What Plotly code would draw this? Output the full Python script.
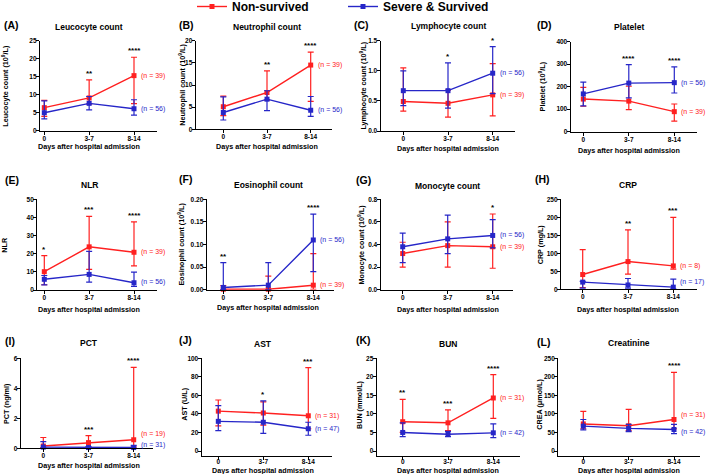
import plotly.graph_objects as go

W, H = 709, 474
FONT = "Arial, Liberation Sans, sans-serif"
RED = "#ff2020"
BLUE = "#2626c8"

days = ["0", "3-7", "8-14"]
group_names = ["Non-survived", "Severe & Survived"]

# ---- data: median, upper (hi) and lower (lo) of IQR; NS = non-survived, SV = severe & survived ----
# (A) Leucocyte count
wbc_ns = [6.4, 9.1, 15.3]; wbc_ns_hi = [8.4, 14.1, 20.4]; wbc_ns_lo = [4.0, 7.4, 7.5]
wbc_sv = [5.0, 7.6, 6.1];  wbc_sv_hi = [8.3, 9.5, 8.6];   wbc_sv_lo = [3.3, 5.8, 4.3]
wbc_stars = ["", "**", "****"]; wbc_n = [39, 56]
# (B) Neutrophil count
neu_ns = [5.1, 8.3, 14.5]; neu_ns_hi = [7.5, 13.2, 17.4]; neu_ns_lo = [3.1, 6.6, 6.3]
neu_sv = [3.8, 6.8, 4.3];  neu_sv_hi = [7.3, 8.7, 7.4];   neu_sv_lo = [2.1, 4.2, 2.9]
neu_stars = ["", "**", "****"]; neu_n = [39, 56]
# (C) Lymphocyte count
lym_ns = [0.49, 0.46, 0.60]; lym_ns_hi = [1.05, 0.68, 1.12]; lym_ns_lo = [0.33, 0.23, 0.25]
lym_sv = [0.67, 0.67, 0.96]; lym_sv_hi = [1.00, 1.13, 1.40]; lym_sv_lo = [0.42, 0.38, 0.62]
lym_stars = ["", "*", "*"]; lym_n = [39, 56]
# (D) Platelet
plt_ns = [145, 136, 89];  plt_ns_hi = [197, 202, 123]; plt_ns_lo = [113, 98, 47]
plt_sv = [168, 216, 218]; plt_sv_hi = [220, 298, 288]; plt_sv_lo = [115, 150, 172]
plt_stars = ["", "****", "****"]; plt_n = [39, 56]
# (E) NLR
nlr_ns = [10.1, 23.8, 20.8]; nlr_ns_hi = [19.0, 40.6, 37.5]; nlr_ns_lo = [2.9, 11.4, 13.3]
nlr_sv = [5.9, 8.6, 4.0];    nlr_sv_hi = [8.0, 21.3, 9.9];   nlr_sv_lo = [2.8, 4.3, 2.0]
nlr_stars = ["*", "***", "****"]; nlr_n = [39, 56]
# (F) Eosinophil count
eos_ns = [0.001, 0.001, 0.010]; eos_ns_hi = [0.009, 0.030, 0.080]; eos_ns_lo = [0.0, 0.0, 0.001]
eos_sv = [0.005, 0.010, 0.110]; eos_sv_hi = [0.060, 0.060, 0.167]; eos_sv_lo = [0.0, 0.0, 0.040]
eos_stars = ["**", "", "****"]; eos_n = [39, 56]
# (G) Monocyte count
mon_ns = [0.32, 0.39, 0.38]; mon_ns_hi = [0.42, 0.60, 0.67]; mon_ns_lo = [0.20, 0.20, 0.19]
mon_sv = [0.38, 0.45, 0.48]; mon_sv_hi = [0.50, 0.66, 0.62]; mon_sv_lo = [0.24, 0.32, 0.37]
mon_stars = ["", "", "*"]; mon_n = [39, 56]
# (H) CRP
crp_ns = [41, 77, 65]; crp_ns_hi = [110, 165, 200]; crp_ns_lo = [5, 42, 56]
crp_sv = [20, 12, 6];  crp_sv_hi = [22, 30, 28];    crp_sv_lo = [3, 3, 1]
crp_stars = ["", "**", "***"]; crp_n = [8, 17]
# (I) PCT
pct_ns = [0.15, 0.38, 0.57]; pct_ns_hi = [0.72, 0.85, 5.40]; pct_ns_lo = [0.05, 0.10, 0.10]
pct_sv = [0.08, 0.05, 0.05]; pct_sv_hi = [0.45, 0.10, 0.20]; pct_sv_lo = [0.02, 0.02, 0.02]
pct_stars = ["", "***", "****"]; pct_n = [19, 31]
# (J) AST
ast_ns = [43, 41, 38]; ast_ns_hi = [55, 53, 90]; ast_ns_lo = [27, 28, 24]
ast_sv = [32, 31, 24]; ast_sv_hi = [49, 54, 31]; ast_sv_lo = [22, 19, 17]
ast_stars = ["", "*", "***"]; ast_n = [31, 47]
# (K) BUN
bun_ns = [7.9, 7.6, 14.3]; bun_ns_hi = [13.9, 11.1, 20.6]; bun_ns_lo = [5.0, 5.5, 8.8]
bun_sv = [5.0, 4.5, 4.9];  bun_sv_hi = [7.6, 5.3, 7.3];    bun_sv_lo = [3.9, 3.9, 3.6]
bun_stars = ["**", "***", "****"]; bun_n = [31, 42]
# (L) Creatinine
cre_ns = [73, 68, 85]; cre_ns_hi = [107, 112, 212]; cre_ns_lo = [60, 55, 60]
cre_sv = [67, 61, 58]; cre_sv_hi = [85, 72, 72];    cre_sv_lo = [57, 52, 47]
cre_stars = ["", "", "****"]; cre_n = [31, 42]

# ---- panel layout (pixel geometry & styles) ----
panels = [
    dict(tag="(A)", title="Leucocyte count", ytitle="Leucocyte count (10<sup>9</sup>/L)",
         ns=(wbc_ns, wbc_ns_hi, wbc_ns_lo), sv=(wbc_sv, wbc_sv_hi, wbc_sv_lo), stars=wbc_stars, n=wbc_n,
         ymax=25, dtick=5, fmt="d", yax=40, xend=157, c0=44.3, c2=134, top=40.7, zero=130.7, bot=130.7,
         tagx=2, tagy=25, titley=26.7, ytx=5, xty=146.7, nshift=(0, 0), xstand=-2),
    dict(tag="(B)", title="Neutrophil count", ytitle="Neutrophil count (10<sup>9</sup>/L)",
         ns=(neu_ns, neu_ns_hi, neu_ns_lo), sv=(neu_sv, neu_sv_hi, neu_sv_lo), stars=neu_stars, n=neu_n,
         ymax=20, dtick=5, fmt="d", yax=195.7, xend=332, c0=223.3, c2=310.7, top=40.7, zero=129.3, bot=129.3,
         tagx=177, tagy=25, titley=26.7, ytx=181.7, xty=146, nshift=(0, 0), xstand=-2),
    dict(tag="(C)", title="Lymphocyte count", ytitle="Lymphocyte count (10<sup>9</sup>/L)",
         ns=(lym_ns, lym_ns_hi, lym_ns_lo), sv=(lym_sv, lym_sv_hi, lym_sv_lo), stars=lym_stars, n=lym_n,
         ymax=1.5, dtick=0.5, fmt=".1f", yax=380.7, xend=515, c0=403.3, c2=492.7, top=40.7, zero=131, bot=131,
         tagx=352, tagy=25, titley=26, ytx=362.7, xty=148.3, nshift=(0, 0), xstand=-2),
    dict(tag="(D)", title="Platelet", ytitle="Platelet (10<sup>9</sup>/L)",
         ns=(plt_ns, plt_ns_hi, plt_ns_lo), sv=(plt_sv, plt_sv_hi, plt_sv_lo), stars=plt_stars, n=plt_n,
         ymax=400, dtick=100, fmt="d", yax=570.7, xend=697, c0=583.3, c2=674.3, top=41.7, zero=131.7, bot=131.7,
         tagx=535, tagy=25, titley=26.7, ytx=541.7, xty=150, nshift=(0, 0), xstand=-2),
    dict(tag="(E)", title="NLR", ytitle="NLR",
         ns=(nlr_ns, nlr_ns_hi, nlr_ns_lo), sv=(nlr_sv, nlr_sv_hi, nlr_sv_lo), stars=nlr_stars, n=nlr_n,
         ymax=50, dtick=10, fmt="d", yax=37.3, xend=157, c0=44.3, c2=134, top=199.3, zero=290, bot=290,
         tagx=3, tagy=180, titley=185, ytx=5, xty=309, nshift=(0, 1), xstand=-2),
    dict(tag="(F)", title="Eosinophil count", ytitle="Eosinophil count (10<sup>9</sup>/L)",
         ns=(eos_ns, eos_ns_hi, eos_ns_lo), sv=(eos_sv, eos_sv_hi, eos_sv_lo), stars=eos_stars, n=eos_n,
         ymax=0.20, dtick=0.05, fmt=".2f", yax=206.7, xend=334, c0=223.3, c2=313.3, top=199.3, zero=289.7, bot=289.7,
         tagx=177, tagy=179, titley=185, ytx=180, xty=307.7, nshift=(0, 0), xstand=-2),
    dict(tag="(G)", title="Monocyte count", ytitle="Monocyte count (10<sup>9</sup>/L)",
         ns=(mon_ns, mon_ns_hi, mon_ns_lo), sv=(mon_sv, mon_sv_hi, mon_sv_lo), stars=mon_stars, n=mon_n,
         ymax=0.8, dtick=0.2, fmt=".1f", yax=380.7, xend=513, c0=402.7, c2=492.7, top=199.3, zero=289.7, bot=289.7,
         tagx=354, tagy=180, titley=185.7, ytx=360, xty=309, nshift=(0, 0), xstand=-2),
    dict(tag="(H)", title="CRP", ytitle="CRP (mg/L)",
         ns=(crp_ns, crp_ns_hi, crp_ns_lo), sv=(crp_sv, crp_sv_hi, crp_sv_lo), stars=crp_stars, n=crp_n,
         ymax=250, dtick=50, fmt="d", yax=561, xend=697, c0=582.7, c2=673.3, top=199.3, zero=289.3, bot=289.3,
         tagx=533, tagy=179, titley=185, ytx=540, xty=309, nshift=(0, 5), xstand=-2),
    dict(tag="(I)", title="PCT", ytitle="PCT (ng/ml)",
         ns=(pct_ns, pct_ns_hi, pct_ns_lo), sv=(pct_sv, pct_sv_hi, pct_sv_lo), stars=pct_stars, n=pct_n,
         ymax=6, dtick=2, fmt="d", yax=20.7, xend=153, c0=43.3, c2=133.7, top=358.3, zero=448.3, bot=448.3,
         tagx=3, tagy=340.7, titley=343.3, ytx=6.7, xty=465, nshift=(6, 3), xstand=-2),
    dict(tag="(J)", title="AST", ytitle="AST (U/L)",
         ns=(ast_ns, ast_ns_hi, ast_ns_lo), sv=(ast_sv, ast_sv_hi, ast_sv_lo), stars=ast_stars, n=ast_n,
         ymax=100, dtick=20, fmt="d", yax=201.7, xend=332, c0=218.3, c2=308.3, top=358.3, zero=451, bot=455.7,
         tagx=177, tagy=340, titley=344, ytx=185, xty=470.3, nshift=(0, 0), xstand=-4),
    dict(tag="(K)", title="BUN", ytitle="BUN (mmol/L)",
         ns=(bun_ns, bun_ns_hi, bun_ns_lo), sv=(bun_sv, bun_sv_hi, bun_sv_lo), stars=bun_stars, n=bun_n,
         ymax=25, dtick=5, fmt="d", yax=376.7, xend=520, c0=402.7, c2=493.3, top=358.3, zero=451, bot=455.7,
         tagx=354, tagy=340, titley=344, ytx=359.3, xty=470.3, nshift=(0, 0), xstand=-4),
    dict(tag="(L)", title="Creatinine", ytitle="CREA (μmol/L)",
         ns=(cre_ns, cre_ns_hi, cre_ns_lo), sv=(cre_sv, cre_sv_hi, cre_sv_lo), stars=cre_stars, n=cre_n,
         ymax=250, dtick=50, fmt="d", yax=558.3, xend=700, c0=583.3, c2=674, top=358.3, zero=451, bot=455.7,
         tagx=535, tagy=341.7, titley=343.3, ytx=540, xty=470.3, nshift=(4, -3), xstand=-4),
]

fig = go.Figure()
layout = {}
annotations = []

def bfont(size, color="black"):
    return dict(family=FONT, size=size, color=color, weight="bold")

for k, p in enumerate(panels):
    idx = k + 1
    sfx = "" if idx == 1 else str(idx)
    xa, ya = "x" + sfx, "y" + sfx
    for (med, hi, lo), color, name in ((p["ns"], RED, group_names[0]), (p["sv"], BLUE, group_names[1])):
        fig.add_trace(go.Scatter(
            x=days, y=med, xaxis=xa, yaxis=ya, mode="lines+markers", name=name,
            showlegend=(k == 0), cliponaxis=False,
            line=dict(color=color, width=1.4),
            marker=dict(symbol="square", size=5, color=color),
            error_y=dict(type="data", symmetric=False,
                         array=[h - m for h, m in zip(hi, med)],
                         arrayminus=[m - l for m, l in zip(med, lo)],
                         color=color, thickness=1.2, width=3),
        ))
    gap = (p["c2"] - p["c0"]) / 2
    xr = [(p["yax"] - p["c0"]) / gap, (p["xend"] - p["c0"]) / gap]
    ymin = -p["ymax"] * (p["bot"] - p["zero"]) / (p["zero"] - p["top"])
    layout["xaxis" + sfx] = dict(
        domain=[p["yax"] / W, p["xend"] / W], range=xr, type="category", anchor=ya,
        showline=True, linecolor="black", linewidth=1.3, ticks="outside", ticklen=3,
        tickwidth=1.2, tickcolor="black", showgrid=False, zeroline=False,
        ticklabelstandoff=p["xstand"], tickfont=bfont(6.5), fixedrange=True)
    layout["yaxis" + sfx] = dict(
        domain=[1 - p["bot"] / H, 1 - p["top"] / H], range=[ymin, p["ymax"]], anchor=xa,
        showline=True, linecolor="black", linewidth=1.3, ticks="outside", ticklen=3,
        tickwidth=1.2, tickcolor="black", showgrid=False, zeroline=False,
        tick0=0, dtick=p["dtick"], tickformat=p["fmt"], ticklabelstandoff=-2,
        tickfont=bfont(6.5), fixedrange=True)
    # panel tag
    annotations.append(dict(text=p["tag"], xref="paper", yref="paper", x=p["tagx"] / W, y=1 - p["tagy"] / H,
                            xanchor="left", yanchor="middle", showarrow=False, font=bfont(10.5)))
    # title
    annotations.append(dict(text=p["title"], xref=xa, yref="paper", x=days[1], y=1 - p["titley"] / H,
                            xanchor="center", yanchor="middle", showarrow=False, font=bfont(8.5)))
    # x title
    annotations.append(dict(text="Days after hospital admission", xref=xa, yref="paper", x=days[1],
                            y=1 - p["xty"] / H, xanchor="center", yanchor="middle", showarrow=False,
                            font=bfont(7.2)))
    # y title
    annotations.append(dict(text=p["ytitle"], xref="paper", yref=ya + " domain", x=p["ytx"] / W,
                            y=0.5 + 0.5 * (p["bot"] - p["zero"]) / (p["bot"] - p["top"]),
                            xanchor="center", yanchor="middle", textangle=-90, showarrow=False,
                            font=bfont(7.2)))
    # significance stars
    for i, s in enumerate(p["stars"]):
        if s:
            annotations.append(dict(text=s, xref=xa, yref=ya, x=days[i],
                                    y=max(p["ns"][1][i], p["sv"][1][i]), xanchor="center",
                                    yanchor="bottom", yshift=0, showarrow=False, font=bfont(8)))
    # n labels
    for (med, _, _), color, nval, sh in ((p["ns"], RED, p["n"][0], p["nshift"][0]),
                                         (p["sv"], BLUE, p["n"][1], p["nshift"][1])):
        annotations.append(dict(text=f"(n = {nval})", xref=xa, yref=ya, x=days[2], y=med[2],
                                xanchor="left", yanchor="middle", xshift=5, yshift=sh, showarrow=False,
                                font=dict(family=FONT, size=7, color=color)))

fig.update_layout(
    width=W, height=H, margin=dict(l=0, r=0, t=0, b=0, autoexpand=False),
    paper_bgcolor="white", plot_bgcolor="white",
    font=dict(family=FONT, color="black"),
    showlegend=True,
    legend=dict(orientation="h", x=192 / W, y=1 + 8 / H, xanchor="left", yanchor="top",
                font=bfont(12), entrywidth=106, itemwidth=30, bgcolor="rgba(0,0,0,0)"),
    annotations=annotations,
    **layout,
)

fig.write_html("out.html", config={"displayModeBar": False},
               post_script="document.body.style.margin='0';document.body.style.padding='0';")
